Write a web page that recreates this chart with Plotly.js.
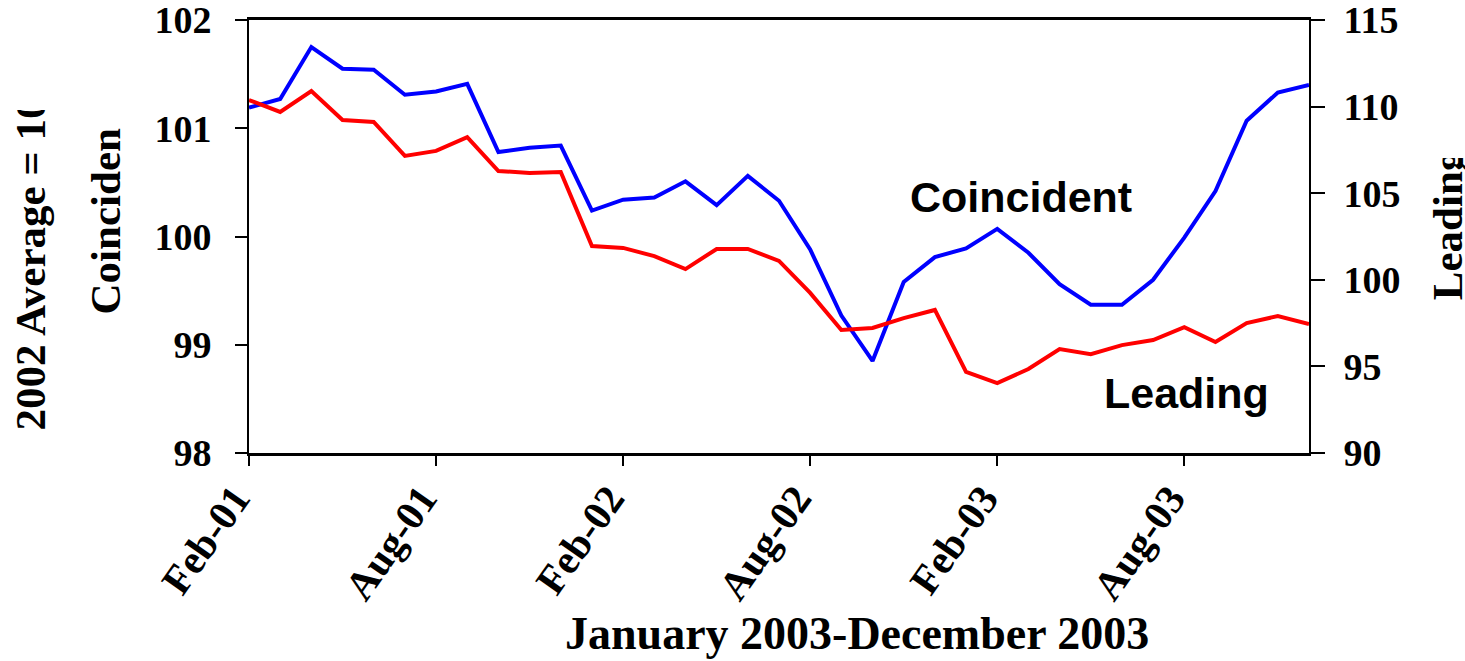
<!DOCTYPE html>
<html>
<head>
<meta charset="utf-8">
<script src="https://cdn.plot.ly/plotly-3.0.1.min.js"></script>
<style>html,body{margin:0;padding:0;background:#fff;}#chart{width:1465px;height:661px;}</style>
</head>
<body>
<div id="chart"></div>
<script>
const months = ["Feb-01","Mar-01","Apr-01","May-01","Jun-01","Jul-01","Aug-01","Sep-01","Oct-01","Nov-01","Dec-01",
  "Jan-02","Feb-02","Mar-02","Apr-02","May-02","Jun-02","Jul-02","Aug-02","Sep-02","Oct-02","Nov-02","Dec-02",
  "Jan-03","Feb-03","Mar-03","Apr-03","May-03","Jun-03","Jul-03","Aug-03","Sep-03","Oct-03","Nov-03","Dec-03"];
const coincident = [101.19,101.27,101.75,101.55,101.54,101.31,101.34,101.41,100.78,100.82,100.84,
  100.24,100.34,100.36,100.51,100.29,100.56,100.33,99.88,99.27,98.85,99.58,99.81,
  99.89,100.07,99.85,99.56,99.37,99.37,99.60,99.99,100.42,101.07,101.33,101.40];
const leading = [110.38,109.69,110.90,109.23,109.11,107.15,107.44,108.24,106.28,106.17,106.22,
  101.95,101.84,101.37,100.62,101.78,101.78,101.09,99.24,97.10,97.22,97.79,98.26,
  94.68,94.04,94.85,96.00,95.71,96.23,96.52,97.27,96.41,97.50,97.91,97.45];
const xTicks = ["Feb-01","Aug-01","Feb-02","Aug-02","Feb-03","Aug-03"];
const leftTicks = [98,99,100,101,102];
const rightTicks = [90,95,100,105,110,115];

const serif = "Liberation Serif, Times New Roman, serif";
const sans = "Liberation Sans, Arial, sans-serif";

const traces = [
  {x: months, y: coincident, type: "scatter", mode: "lines", name: "Coincident",
   line: {color: "#0000FF", width: 4}, xaxis: "x", yaxis: "y"},
  {x: months, y: leading, type: "scatter", mode: "lines", name: "Leading",
   line: {color: "#FF0000", width: 4}, xaxis: "x", yaxis: "y2"}
];

const layout = {
  width: 1465, height: 661,
  margin: {l: 249, r: 156, t: 20, b: 208, pad: 0},
  paper_bgcolor: "#fff", plot_bgcolor: "#fff",
  showlegend: false,
  xaxis: {
    type: "category", categoryorder: "array", categoryarray: months,
    range: [0, months.length - 1],
    tickmode: "array", tickvals: xTicks, ticktext: xTicks,
    tickangle: -55, ticks: "outside", ticklen: 10, tickwidth: 2, tickcolor: "#000",
    showline: true, linecolor: "#000", linewidth: 3, mirror: true,
    showgrid: false, zeroline: false, ticklabelstandoff: -8, ticklabelshift: -14,
    tickfont: {family: serif, size: 41, color: "#000", weight: "bold"}
  },
  yaxis: {
    range: [98, 102], tickmode: "array", tickvals: leftTicks,
    ticks: "outside", ticklen: 12, tickwidth: 2, tickcolor: "#000",
    showline: true, linecolor: "#000", linewidth: 2,
    showgrid: false, zeroline: false, ticklabelstandoff: 16, ticklabeloverflow: "allow",
    tickfont: {family: serif, size: 38, color: "#000", weight: "bold"}
  },
  yaxis2: {
    range: [90, 115], overlaying: "y", side: "right", anchor: "x",
    tickmode: "array", tickvals: rightTicks,
    ticks: "outside", ticklen: 14, tickwidth: 2, tickcolor: "#000",
    showline: true, linecolor: "#000", linewidth: 2,
    showgrid: false, zeroline: false, ticklabelstandoff: 11, ticklabeloverflow: "allow",
    tickfont: {family: serif, size: 38, color: "#000", weight: "bold"}
  },
  yaxis3: {
    range: [90, 115], overlaying: "y", side: "right", anchor: "x",
    tickmode: "array", tickvals: rightTicks, showticklabels: false,
    ticks: "inside", ticklen: 13, tickwidth: 2, tickcolor: "#000",
    showline: false, showgrid: false, zeroline: false
  },
  annotations: [
    {text: "Coincident", xref: "paper", yref: "paper", x: 0.7283, y: 0.591, showarrow: false,
     xanchor: "center", yanchor: "middle", font: {family: sans, size: 43, color: "#000", weight: "bold"}},
    {text: "Leading", xref: "paper", yref: "paper", x: 0.884, y: 0.139, showarrow: false,
     xanchor: "center", yanchor: "middle", font: {family: sans, size: 43, color: "#000", weight: "bold"}},
    {text: "January 2003-December 2003", xref: "paper", yref: "paper", x: 0.5736, y: -0.418, showarrow: false,
     xanchor: "center", yanchor: "middle", font: {family: serif, size: 46, color: "#000", weight: "bold"}},
    {text: "2002 Average = 100", xref: "paper", yref: "paper", x: -0.2066, y: 0.461, showarrow: false,
     textangle: -90, xanchor: "center", yanchor: "middle",
     font: {family: serif, size: 43, color: "#000", weight: "bold"}},
    {text: "Coincident", xref: "paper", yref: "paper", x: -0.1358, y: 0.551, showarrow: false,
     textangle: -90, xanchor: "center", yanchor: "middle",
     font: {family: serif, size: 43, color: "#000", weight: "bold"}},
    {text: "Leading", xref: "paper", yref: "paper", x: 1.131, y: 0.528, showarrow: false,
     textangle: -90, xanchor: "center", yanchor: "middle",
     font: {family: serif, size: 43, color: "#000", weight: "bold"}}
  ]
};

// Visible windows of the clipped axis-title text boxes, in page pixels: [annotation index, x, y, w, h]
const titleClips = [[3, 0, 110, 80, 400], [4, 70, 128, 70, 300], [5, 1400, 158, 65, 300]];

Plotly.newPlot("chart", traces, layout, {displayModeBar: false, staticPlot: true}).then(function (gd) {
  const ns = "http://www.w3.org/2000/svg";
  const anns = gd.querySelectorAll("g.annotation");
  titleClips.forEach(function (c) {
    const g = anns[c[0]];
    if (!g) return;
    const svg = g.ownerSVGElement;
    let defs = svg.querySelector("defs");
    if (!defs) { defs = document.createElementNS(ns, "defs"); svg.insertBefore(defs, svg.firstChild); }
    const cp = document.createElementNS(ns, "clipPath");
    cp.setAttribute("id", "titleclip" + c[0]);
    const r = document.createElementNS(ns, "rect");
    r.setAttribute("x", c[1]); r.setAttribute("y", c[2]);
    r.setAttribute("width", c[3]); r.setAttribute("height", c[4]);
    cp.appendChild(r); defs.appendChild(cp);
    g.setAttribute("clip-path", "url(#titleclip" + c[0] + ")");
  });
});
</script>
</body>
</html>
